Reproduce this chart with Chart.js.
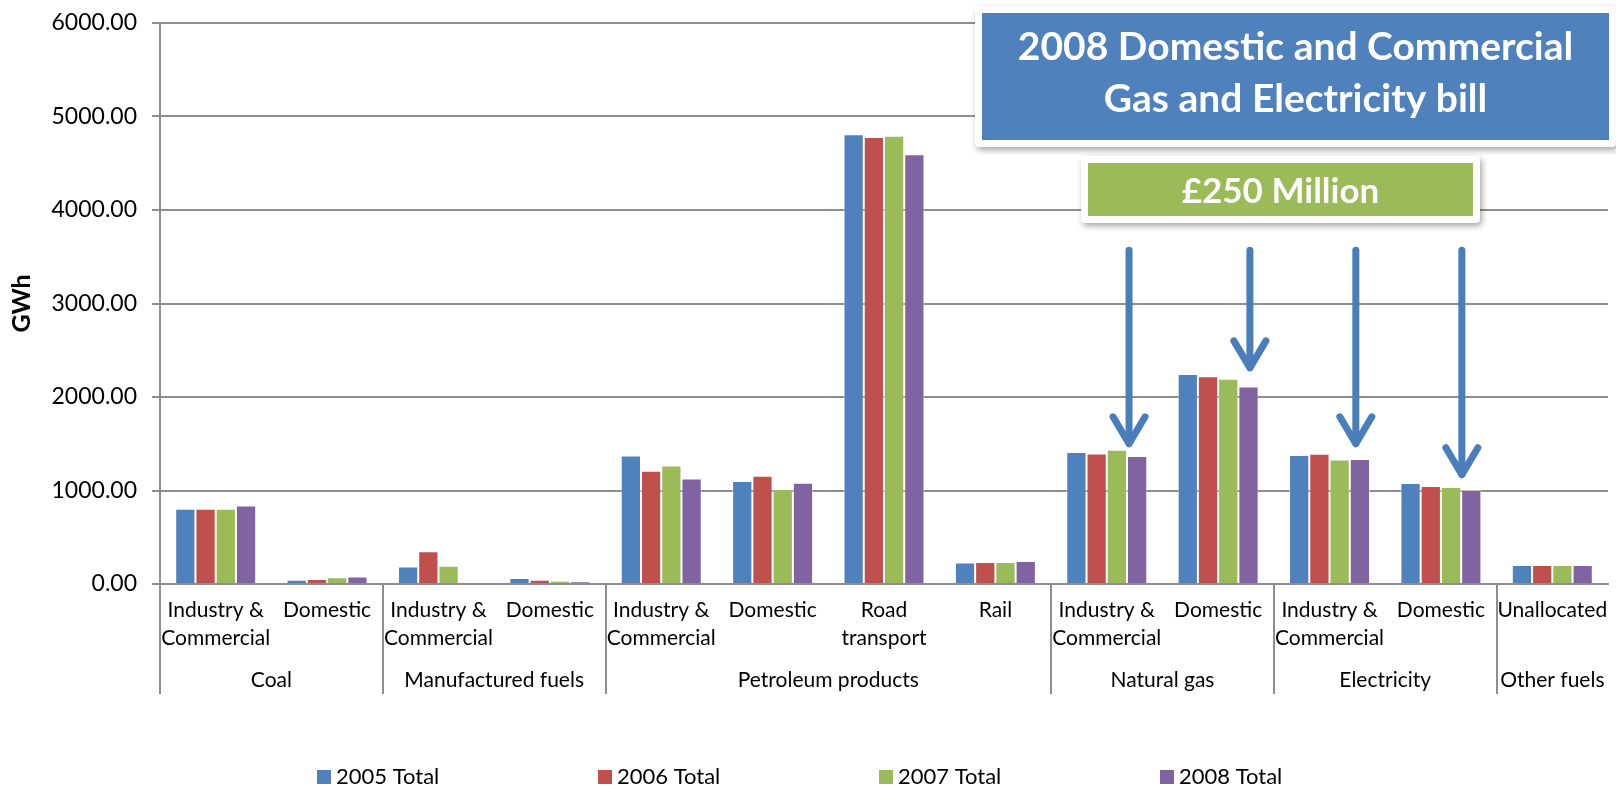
<!DOCTYPE html>
<html>
<head>
<meta charset="utf-8">
<script src="https://cdn.jsdelivr.net/npm/chart.js@4.4.1/dist/chart.umd.min.js"></script>
<style>
  html, body { margin: 0; padding: 0; background: #fff; }
  #wrap { width: 1616px; height: 789px; }
</style>
</head>
<body>
<div id="wrap"><canvas id="fuelChart" width="1616" height="789"></canvas></div>
<script>
// sub-categories along the x axis, and the fuel groups they belong to
const categories = [
    ['Industry &', 'Commercial'], 'Domestic',
    ['Industry &', 'Commercial'], 'Domestic',
    ['Industry &', 'Commercial'], 'Domestic', ['Road', 'transport'], 'Rail',
    ['Industry &', 'Commercial'], 'Domestic',
    ['Industry &', 'Commercial'], 'Domestic',
    'Unallocated',
];
const groups = ['Coal', 'Manufactured fuels', 'Petroleum products', 'Natural gas', 'Electricity', 'Other fuels'];
const groupSizes = [2, 2, 4, 2, 2, 1];

const seriesNames = ['2005 Total', '2006 Total', '2007 Total', '2008 Total'];
const total2005 = [805, 46, 188, 64, 1375, 1101, 4810, 231, 1411, 2245, 1379, 1080, 203];
const total2006 = [805, 53, 349, 46, 1211, 1158, 4781, 235, 1396, 2223, 1393, 1048, 203];
const total2007 = [805, 73, 196, 35, 1268, 1015, 4795, 235, 1436, 2195, 1332, 1037, 203];
const total2008 = [840, 80, 0, 28, 1129, 1083, 4596, 246, 1368, 2113, 1336, 1005, 203];

const yTicks = [0, 1000, 2000, 3000, 4000, 5000, 6000];

const colors = ['#4F81BD', '#C0504D', '#9BBB59', '#8064A2'];
const FONT = 'Lato, "Open Sans", sans-serif';
const GRID = '#8e8e8e';

// arrows: category index, offset inside the category, start and tip values
const arrows = [
    { cat: 8, dx: 0.20, from: 3570, to: 1478 },
    { cat: 9, dx: 0.285, from: 3570, to: 2290 },
    { cat: 10, dx: 0.236, from: 3570, to: 1478 },
    { cat: 11, dx: 0.188, from: 3570, to: 1147 },
];

const groupAxis = {
    id: 'groupAxis',
    afterDraw(chart) {
        const { ctx, scales: { x } } = chart;
        const cw = x.width / categories.length;
        const y0 = x.top;
        ctx.save();
        ctx.strokeStyle = GRID;
        ctx.lineWidth = 2;
        ctx.fillStyle = '#000';
        ctx.font = '21px ' + FONT;
        ctx.textAlign = 'center';
        ctx.textBaseline = 'middle';
        let k = 0;
        groups.forEach((g, i) => {
            const left = x.left + k * cw;
            const right = left + groupSizes[i] * cw;
            ctx.beginPath();
            ctx.moveTo(Math.round(left), y0);
            ctx.lineTo(Math.round(left), y0 + 110);
            ctx.stroke();
            ctx.fillText(g, (left + right) / 2, y0 + 96);
            k += groupSizes[i];
        });
        ctx.restore();
    },
};

const notes = {
    id: 'notes',
    afterDraw(chart) {
        const { ctx, scales: { x, y } } = chart;
        const cw = x.width / categories.length;
        ctx.save();

        // arrows
        ctx.strokeStyle = '#4A7EBB';
        ctx.lineWidth = 7;
        ctx.lineCap = 'round';
        ctx.lineJoin = 'round';
        arrows.forEach((a) => {
            const ax = x.getPixelForValue(a.cat) + a.dx * cw;
            const top = y.getPixelForValue(a.from);
            const tip = y.getPixelForValue(a.to);
            ctx.beginPath();
            ctx.moveTo(ax, top);
            ctx.lineTo(ax, tip - 3);
            ctx.stroke();
            ctx.beginPath();
            ctx.moveTo(ax - 16, tip - 29);
            ctx.lineTo(ax, tip - 2);
            ctx.lineTo(ax + 16, tip - 29);
            ctx.stroke();
        });

        // callout boxes
        const box = (ox, oy, ow, oh, fill, lines, size, ys) => {
            ctx.save();
            ctx.shadowColor = 'rgba(0,0,0,0.35)';
            ctx.shadowBlur = 6;
            ctx.shadowOffsetX = 2;
            ctx.shadowOffsetY = 3;
            ctx.fillStyle = '#fff';
            ctx.beginPath();
            ctx.roundRect(ox, oy, ow, oh, 4);
            ctx.fill();
            ctx.restore();
            ctx.fillStyle = fill;
            ctx.fillRect(ox + 7, oy + 7, ow - 14, oh - 14);
            ctx.fillStyle = '#fff';
            ctx.font = 'bold ' + size + 'px ' + FONT;
            ctx.textAlign = 'center';
            ctx.textBaseline = 'middle';
            lines.forEach((t, i) => ctx.fillText(t, ox + ow / 2, ys[i]));
        };
        box(975, 6, 641, 141, '#4F81BD', ['2008 Domestic and Commercial', 'Gas and Electricity bill'], 39, [47, 99]);
        box(1081, 156, 399, 67, '#9BBB59', ['£250 Million'], 35, [192]);

        // legend
        ctx.font = '22px ' + FONT;
        ctx.textAlign = 'left';
        ctx.textBaseline = 'middle';
        chart.data.datasets.forEach((ds, i) => {
            const lx = 317 + i * 281;
            ctx.fillStyle = ds.backgroundColor;
            ctx.fillRect(lx, 770, 14, 14);
            ctx.fillStyle = '#000';
            ctx.fillText(ds.label, lx + 19, 777);
        });
        ctx.restore();
    },
};

const series = [total2005, total2006, total2007, total2008];

new Chart(document.getElementById('fuelChart'), {
    type: 'bar',
    data: {
        labels: categories,
        datasets: series.map((vals, i) => ({
            label: seriesNames[i],
            data: vals,
            backgroundColor: colors[i],
            borderColor: 'rgba(255,255,255,0.45)',
            borderWidth: 1,
            borderSkipped: 'bottom',
            categoryPercentage: 0.727,
            barPercentage: 1,
        })),
    },
    options: {
        responsive: false,
        devicePixelRatio: 1,
        animation: false,
        layout: { padding: { top: 23, right: 8, bottom: 0, left: 0 } },
        plugins: { legend: { display: false }, tooltip: { enabled: false } },
        scales: {
            x: {
                grid: { display: false, drawTicks: false },
                border: { display: true, color: GRID, width: 2 },
                ticks: {
                    color: '#000',
                    font: { family: FONT, size: 21, lineHeight: 1.3 },
                    padding: 13,
                    maxRotation: 0,
                    autoSkip: false,
                },
                afterFit: (s) => {
                    s.height = 205;
                    s.paddingLeft = 0;
                    s.paddingRight = 0;
                },
            },
            y: {
                min: 0,
                max: 6000,
                afterBuildTicks: (s) => { s.ticks = yTicks.map((v) => ({ value: v })); },
                grid: { color: GRID, lineWidth: 2, tickLength: 8 },
                border: { display: true, color: GRID, width: 2 },
                ticks: {
                    color: '#000',
                    font: { family: FONT, size: 23 },
                    padding: 15,
                    callback: (v) => v.toFixed(2),
                },
                title: {
                    display: true,
                    text: 'GWh',
                    color: '#000',
                    font: { family: FONT, size: 25, weight: 'bold' },
                    padding: { top: 7, bottom: 0 },
                },
                afterFit: (s) => {
                    s.width = 160;
                    s.paddingTop = 0;
                    s.paddingBottom = 0;
                },
            },
        },
    },
    plugins: [groupAxis, notes],
});
</script>
</body>
</html>
